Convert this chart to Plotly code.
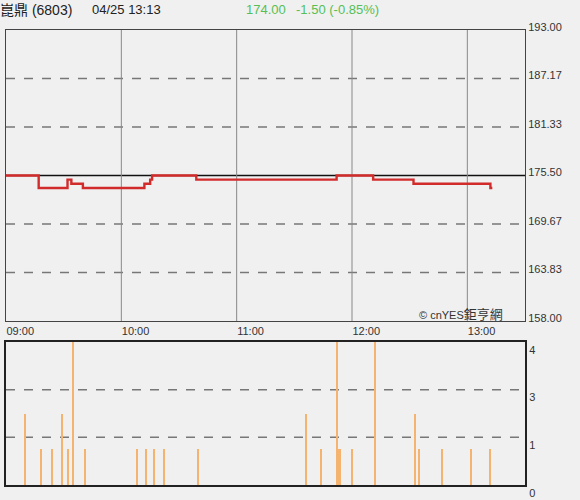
import plotly.graph_objects as go

# ---- data ----
price_times = ["09:00", "09:17", "09:32", "09:34", "09:40", "10:12", "10:15", "10:16",
               "10:39", "11:52", "12:11", "12:32", "13:12", "13:13"]
price_values = [175.5, 174.0, 175.0, 174.5, 174.0, 174.5, 175.0, 175.5,
                175.0, 175.5, 175.0, 174.5, 174.0, 174.0]

vol_times = ["09:10", "09:18", "09:24", "09:29", "09:32", "09:35", "09:41", "10:08",
             "10:13", "10:17", "10:22", "10:40", "11:36", "11:44", "11:52", "11:53",
             "11:54", "12:00", "12:12", "12:33", "12:35", "12:47", "13:02", "13:12"]
vol_values = [2, 1, 1, 2, 1, 4.4, 1, 1, 1, 1, 1, 1, 2, 1, 4, 1, 1, 1, 4, 2, 1, 1, 1, 1]

price_ticks = [158.00, 163.83, 169.67, 175.50, 181.33, 187.17, 193.00]
prev_close = 175.50
vol_ticks = [0, 4 / 3, 8 / 3, 4]
vol_tick_labels = ["0", "1", "3", "4"]
hour_ticks = ["10:00", "11:00", "12:00", "13:00"]
x_labels = ["09:00", "10:00", "11:00", "12:00", "13:00"]

header_name = "崑鼎 (6803)"
header_time = "04/25 13:13"
header_price = "174.00"
header_change = "-1.50 (-0.85%)"

DAY = "2024-04-25 "


def t(s):
    return DAY + s + ":00"


# ---- layout geometry ----
W_FIG, H_FIG = 580, 500
L, R, T, B = 6, 55, 30, 15
PW = W_FIG - L - R
PH = H_FIG - T - B


def px_x(px):
    return (px - L) / PW


def px_y(py):
    return (H_FIG - B - py) / PH


FONT = "Liberation Sans, Arial, Noto Sans CJK TC, sans-serif"
BG = "#f0f0f0"

fig = go.Figure()

fig.add_trace(go.Scatter(
    x=[t(s) for s in price_times], y=price_values,
    mode="lines", line=dict(color="#d22b2b", width=2.4, shape="hv"),
    xaxis="x", yaxis="y", hoverinfo="skip", showlegend=False))

fig.add_trace(go.Bar(
    x=[t(s) for s in vol_times], y=vol_values,
    width=32000, marker=dict(color="#f4b36e", line=dict(width=0)),
    xaxis="x2", yaxis="y2", cliponaxis=False, hoverinfo="skip", showlegend=False))

x_range = [t("09:00"), t("13:30")]

fig.update_layout(
    width=W_FIG, height=H_FIG,
    margin=dict(l=L, r=R, t=T, b=B, autoexpand=False),
    paper_bgcolor=BG, plot_bgcolor=BG,
    font=dict(family=FONT, size=11, color="#333"),
    bargap=0,
    xaxis=dict(
        domain=[0, 1], range=x_range, type="date", automargin=False,
        tickvals=[t(s) for s in x_labels], ticktext=x_labels,
        ticklabelposition="outside right", ticks="",
        showgrid=False, zeroline=False,
        showline=True, linecolor="#444", linewidth=1, mirror=True,
        anchor="y", tickfont=dict(size=11, color="#333"),
    ),
    yaxis=dict(
        domain=[px_y(321), 1], range=[158, 193], automargin=False,
        side="right", tickvals=price_ticks,
        ticktext=["%.2f" % v for v in price_ticks],
        ticklabelshift=-3,
        ticks="", showgrid=False, zeroline=False,
        showline=True, linecolor="#444", linewidth=1, mirror=True,
        anchor="x", tickfont=dict(size=11, color="#333"),
    ),
    xaxis2=dict(
        domain=[0, 1], range=x_range, type="date", matches="x", automargin=False,
        showticklabels=False, ticks="", showgrid=False, zeroline=False,
        showline=True, linecolor="#222", linewidth=2, mirror=True, anchor="y2",
    ),
    yaxis2=dict(
        domain=[0, px_y(342)], range=[0, 4], automargin=False,
        side="right", tickvals=vol_ticks, ticktext=vol_tick_labels,
        ticklabelposition="outside bottom",
        ticks="", showgrid=False, zeroline=False,
        showline=True, linecolor="#222", linewidth=2, mirror=True,
        anchor="x2", tickfont=dict(size=11, color="#333"),
    ),
)

shapes = []
for s in hour_ticks:
    shapes.append(dict(type="line", xref="x", yref="y", x0=t(s), x1=t(s),
                       y0=158, y1=193, line=dict(color="#888", width=1), layer="below"))
for v in price_ticks[1:-1]:
    if v == prev_close:
        continue
    shapes.append(dict(type="line", xref="paper", yref="y", x0=0, x1=1, y0=v, y1=v,
                       line=dict(color="#777", width=1.5, dash="dash"), layer="below"))
shapes.append(dict(type="line", xref="paper", yref="y", x0=0, x1=1, y0=prev_close, y1=prev_close,
                   line=dict(color="#111", width=1.5), layer="below"))
for v in vol_ticks[1:-1]:
    shapes.append(dict(type="line", xref="paper", yref="y2", x0=0, x1=1, y0=v, y1=v,
                       line=dict(color="#777", width=1.5, dash="dash"), layer="below"))
fig.update_layout(shapes=shapes)

annotations = [
    dict(text=header_name, x=px_x(-2), y=px_y(10), xref="paper", yref="paper",
         xanchor="left", yanchor="middle", showarrow=False,
         font=dict(size=14, color="#222")),
    dict(text=header_time, x=px_x(90), y=px_y(10), xref="paper", yref="paper",
         xanchor="left", yanchor="middle", showarrow=False,
         font=dict(size=13, color="#222")),
    dict(text=header_price, x=px_x(244), y=px_y(10), xref="paper", yref="paper",
         xanchor="left", yanchor="middle", showarrow=False,
         font=dict(size=13, color="#55c055")),
    dict(text=header_change, x=px_x(294), y=px_y(10), xref="paper", yref="paper",
         xanchor="left", yanchor="middle", showarrow=False,
         font=dict(size=13, color="#55c055")),
    dict(text="© cnYES<span style='font-size:13px'>鉅亨網</span>",
         x=px_x(505), y=px_y(314), xref="paper", yref="paper",
         xanchor="right", yanchor="middle", showarrow=False,
         font=dict(size=11, color="#333")),
]
fig.update_layout(annotations=annotations)

fig.write_html("out.html", config={"displayModeBar": False},
               post_script="document.body.style.margin='0px';")
